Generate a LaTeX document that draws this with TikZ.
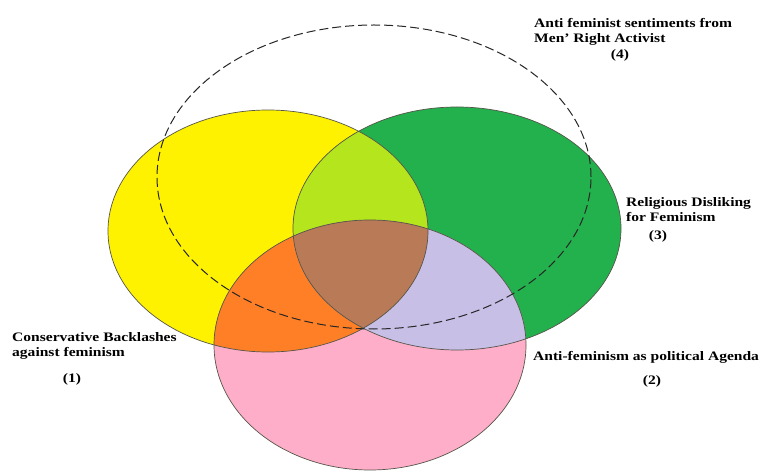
\documentclass[tikz,border=0pt]{standalone}
\usepackage{fontspec}
\setmainfont{Liberation Serif}[FakeStretch=1.2]
\usepackage{xcolor}
\usetikzlibrary{positioning}

\definecolor{setyellow}{HTML}{FFF200}
\definecolor{setgreen}{HTML}{22B14C}
\definecolor{setpink}{HTML}{FFAEC9}
\definecolor{mixlime}{HTML}{B5E61D}
\definecolor{mixorange}{HTML}{FF7F27}
\definecolor{mixlilac}{HTML}{C8BFE7}
\definecolor{mixbrown}{HTML}{B97A57}
\definecolor{rim}{HTML}{55554A}

\newcommand{\yellowset}{(268,231) ellipse [x radius=160bp, y radius=121bp]}
\newcommand{\greenset}{(457,228.5) ellipse [x radius=164bp, y radius=121.5bp]}
\newcommand{\pinkset}{(370,345) ellipse [x radius=156bp, y radius=125bp]}

\begin{document}
\begin{tikzpicture}[x=1bp, y=-1bp,
    lbl/.style={font=\bfseries\fontsize{13}{14.5}\selectfont, align=left, inner sep=0pt, text=black}]
\useasboundingbox (0,0) rectangle (761,473);

% Sets
\fill[setyellow] \yellowset;
\fill[setgreen] \greenset;
\fill[setpink] \pinkset;

% Overlaps
\begin{scope}
  \clip \yellowset;
  \fill[mixlime] \greenset;
  \fill[mixorange] \pinkset;
\end{scope}
\begin{scope}
  \clip \greenset;
  \fill[mixlilac] \pinkset;
\end{scope}
\begin{scope}
  \clip \yellowset;
  \clip \greenset;
  \fill[mixbrown] \pinkset;
\end{scope}

% Outlines
\draw[rim, line width=0.7bp] \yellowset;
\draw[rim, line width=0.7bp] \greenset;
\draw[rim, line width=0.7bp] \pinkset;

% Men's rights circle
\draw[black!85, line width=1bp, dash pattern=on 9bp off 4bp] (374,177) ellipse [x radius=217bp, y radius=152bp];

% Labels
\node[lbl, anchor=north west] (lblfour) at (534,18.5) {Anti feminist sentiments from\\Men' Right Activist};
\node[lbl, anchor=base] (numfour) at (620,59) {(4)};

\node[lbl, anchor=north west] (lblthree) at (626,197.5) {Religious Disliking\\for Feminism};
\node[lbl, anchor=base] (numthree) at (658,240) {(3)};

\node[lbl, anchor=north west] (lblone) at (12,332.5) {Conservative Backlashes\\against feminism};
\node[lbl, anchor=base] (numone) at (72,382) {(1)};

\node[lbl, anchor=north west] (lbltwo) at (533,351.5) {Anti-feminism as political Agenda};
\node[lbl, anchor=base] (numtwo) at (652,384) {(2)};
\end{tikzpicture}
\end{document}
